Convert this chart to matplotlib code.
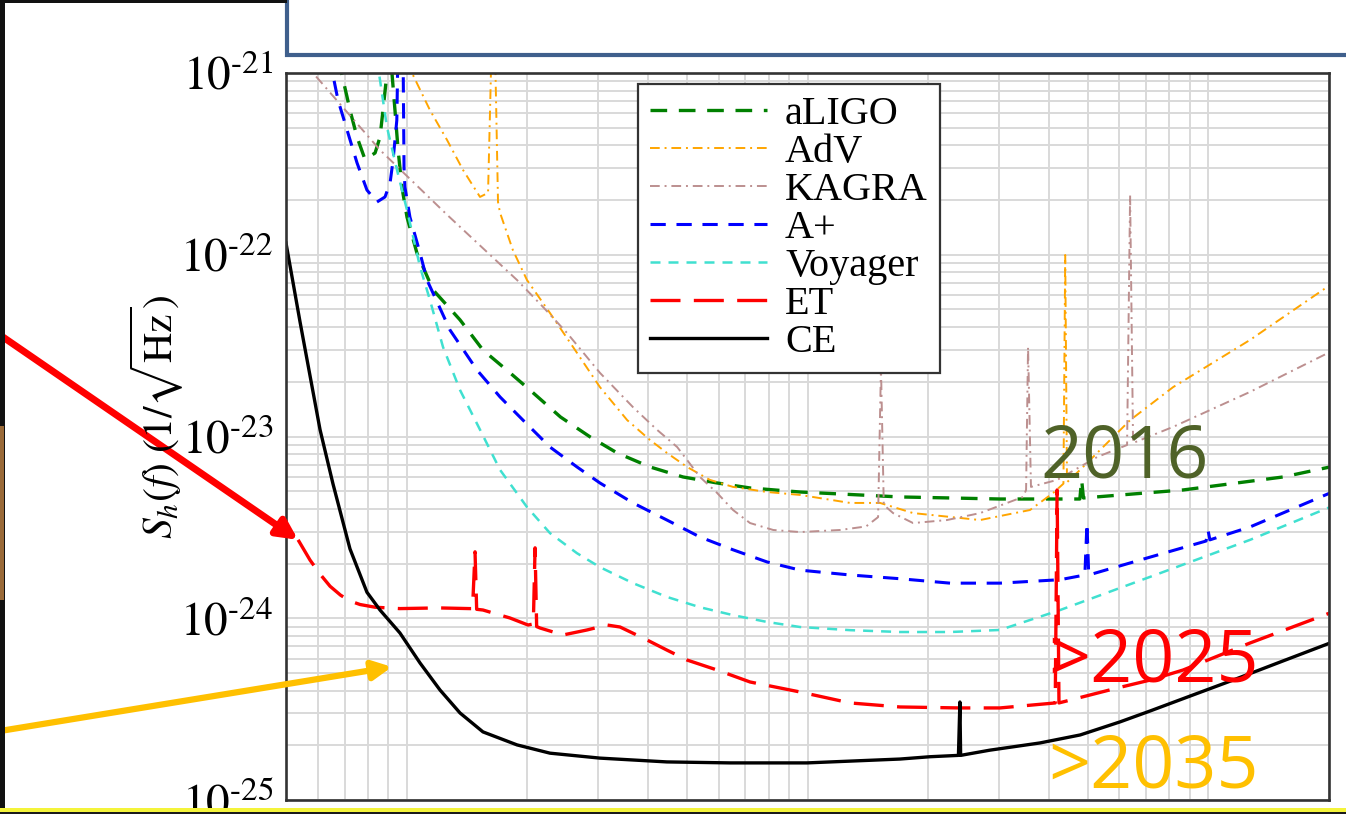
import matplotlib.pyplot as plt
from matplotlib.patches import Rectangle
from matplotlib.ticker import FixedLocator, FixedFormatter, NullFormatter

plt.rcParams['font.family'] = ['Liberation Serif', 'DejaVu Serif']
plt.rcParams['mathtext.fontset'] = 'stix'

# strain noise curves: frequency in Hz, amplitude in units of 1e-24 / sqrt(Hz)
aligo_f = [6.75, 7.10, 7.22, 7.52, 7.87, 8.34, 8.58, 8.73, 8.93, 9.05, 9.19, 9.35, 9.52, 9.73,
           10.02, 10.61, 11.64, 13.59, 15.50, 18.11, 20.67, 24.2, 28.7, 33.5, 40.46, 48.9,
           59.5, 71.9, 95.8, 170, 227, 302, 403, 478, 483, 488, 865, 1537, 2013]
aligo_h = [1200, 738, 625, 444, 335, 363, 444, 625, 1000, 2500, 1000, 625, 377, 236,
           161, 102, 64.0, 43.8, 29.9, 22.4, 17.4, 12.8, 9.94, 8.12, 6.80, 5.99,
           5.55, 5.21, 4.95, 4.65, 4.59, 4.53, 4.53, 4.53, 5.77, 4.59, 5.08, 5.99, 6.80]

adv_f = [10.0, 11.43, 12.61, 13.82, 15.24, 15.96, 16.3, 16.6, 16.9, 17.1, 18.41, 19.96, 22.78,
         26.0, 30.35, 35.5, 40.46, 44.6, 50.06, 57.1, 65.2, 79.3, 95.8, 127.7, 151.7, 183.4,
         269.5, 359, 410, 435, 439.5, 444, 478.6, 638, 817, 1271, 2013]
adv_h = [1150, 625, 428, 293, 208, 219, 1500, 1500, 195, 170, 106, 72.6, 47.8,
         31.1, 18.7, 12.3, 9.57, 8.12, 6.80, 5.77, 5.28, 4.95, 4.77, 4.31, 4.31, 3.79,
         3.47, 3.94, 4.89, 5.5, 99.7, 5.6, 6.55, 12.3, 18.7, 34.0, 68.2]

kagra_f = [5.5, 5.84, 8.58, 12.61, 18.85, 21.89, 25.13, 30.35, 36.7, 42.1, 47.3, 50.06, 53.9,
           59.5, 65.2, 71.9, 82.1, 95.8, 120.6, 140, 150, 152.5, 155, 163.5, 183.4, 222.8,
           269.5, 345, 351, 355, 361, 419.5, 528, 627, 638, 649, 817, 1271, 2013]
kagra_h = [1180, 1000, 377, 166, 72.6, 51.6, 37.1, 22.4, 14.5, 10.9, 8.75, 7.43, 5.99,
           4.89, 3.94, 3.34, 3.06, 2.98, 3.06, 3.2, 3.6, 24.1, 4.2, 3.79, 3.34, 3.47,
           3.79, 4.65, 5.08, 31.1, 5.28, 5.77, 7.71, 8.98, 213, 9.21, 11.3, 17.6, 29.2]

aplus_f = [6.4, 6.74, 7.10, 7.52, 7.96, 8.43, 8.83, 9.09, 9.25, 9.45, 9.52, 9.79, 9.85, 9.90,
           10.19, 10.80, 11.24, 12.83, 14.98, 17.1, 19.51, 22.78, 26.6, 30.35, 36.7, 44.6,
           53.9, 65.2, 79.3, 95.8, 127.7, 170, 226.8, 302, 427, 492, 498, 503, 716, 987,
           998, 1009, 1271, 2013]
aplus_h = [1250, 710, 486, 320, 227, 195, 208, 248, 332, 550, 1500, 1500, 300, 236,
           161, 102, 72.6, 38.5, 23.2, 16.5, 12.3, 8.75, 6.80, 5.55, 4.31, 3.47,
           2.80, 2.38, 2.04, 1.84, 1.73, 1.65, 1.56, 1.56, 1.63, 1.73, 3.34, 1.73, 2.17, 2.66,
           3.06, 2.70, 3.18, 4.89]

voyager_f = [8.3, 8.93, 9.46, 10.02, 10.80, 11.43, 12.32, 13.59, 15.24, 17.1, 19.96, 22.78,
             26.6, 30.35, 36.7, 44.6, 53.9, 65.2, 79.3, 95.8, 127.7, 170, 226.8, 302, 427,
             716, 1271, 2013]
voyager_h = [1500, 504, 293, 176, 85.7, 56.4, 31.1, 18.0, 10.9, 6.55, 4.09, 2.94,
             2.28, 1.91, 1.56, 1.31, 1.15, 1.04, 0.954, 0.895, 0.86, 0.840, 0.840, 0.862, 1.11,
             1.69, 2.70, 4.09]

et_f = [5.36, 5.74, 6.08, 6.44, 6.84, 7.22, 7.65, 8.34, 9.62, 12.0, 14.39, 14.6, 14.81, 14.95,
        15.50, 18.11, 20.08, 20.7, 20.91, 21.1, 21.51, 24.55, 28.18, 31.61, 34.07, 39.8, 44.6,
        50.06, 59.5, 71.9, 95.8, 127.7, 170, 240, 302, 415, 419.5, 424, 592, 716, 865, 1271,
        2013]
et_h = [2.70, 2.09, 1.75, 1.50, 1.34, 1.245, 1.19, 1.15, 1.13, 1.14, 1.13, 1.13, 2.32, 1.12,
        1.11, 1.003, 0.918, 0.93, 2.44, 0.90, 0.884, 0.809, 0.862, 0.918, 0.895, 0.759, 0.668,
        0.589, 0.519, 0.446, 0.393, 0.342, 0.325, 0.321, 0.321, 0.342, 5.08, 0.342, 0.413, 0.457,
        0.519, 0.731, 1.07]

ce_f = [5.0, 5.42, 6.08, 6.55, 7.22, 7.96, 8.58, 9.62, 10.80, 12.11, 13.59, 15.50, 18.85,
        22.78, 30.35, 44.6, 64.1, 99.7, 170, 202, 238, 240, 241, 285, 380, 479, 602, 716,
        900, 1153, 1510, 2013]
ce_h = [116, 42.7, 10.9, 5.48, 2.41, 1.39, 1.11, 0.830, 0.567, 0.403, 0.301, 0.237, 0.201,
        0.181, 0.170, 0.162, 0.160, 0.160, 0.168, 0.173, 0.176, 0.346, 0.176, 0.188, 0.206,
        0.228, 0.269, 0.309, 0.373, 0.457, 0.574, 0.731]

curves = [
    ('aLIGO', aligo_f, aligo_h, dict(color='#008000', lw=2.4, dashes=(5, 3.5))),
    ('AdV', adv_f, adv_h, dict(color='#FFA500', lw=1.4, dashes=(5, 2.5, 1, 2.5))),
    ('KAGRA', kagra_f, kagra_h, dict(color='#BC8F8F', lw=1.4, dashes=(5, 2.5, 1, 2.5))),
    ('A+', aplus_f, aplus_h, dict(color='#0000FF', lw=2.2, dashes=(5, 3.5))),
    ('Voyager', voyager_f, voyager_h, dict(color='#40E0D0', lw=1.8, dashes=(4, 3.2))),
    ('ET', et_f, et_h, dict(color='#FF0000', lw=2.4, dashes=(9, 4))),
    ('CE', ce_f, ce_h, dict(color='black', lw=2.4)),
]

W, H = 1346, 814
fig = plt.figure(figsize=(W / 100, H / 100), dpi=100)
ax = fig.add_axes([286 / W, 14 / H, 1043 / W, 727 / H])

for name, f, h, style in curves:
    ax.plot(f, [v * 1e-24 for v in h], label=name, **style)

ax.set_xscale('log')
ax.set_yscale('log')
ax.set_xlim(5, 2000)
ax.set_ylim(1e-25, 1e-21)

yt = [1e-25, 1e-24, 1e-23, 1e-22, 1e-21]
ax.yaxis.set_major_locator(FixedLocator(yt))
ax.yaxis.set_major_formatter(FixedFormatter(
    ['$10^{\u2010%d}$' % k for k in (25, 24, 23, 22, 21)]))
ax.yaxis.set_minor_formatter(NullFormatter())
ax.tick_params(axis='y', which='both', length=0, labelsize=34, pad=9)
ax.tick_params(axis='x', which='both', length=0, labelbottom=False)

ax.grid(True, which='both', color='#d9d9d9', lw=1.4)
ax.set_axisbelow(True)
for sp in ax.spines.values():
    sp.set_color('#333333')
    sp.set_linewidth(1.9)

leg = ax.legend(loc='upper left', bbox_to_anchor=(0.3375, 0.985), borderaxespad=0,
                fontsize=29, frameon=True, fancybox=False, framealpha=1,
                edgecolor='#333333', handlelength=2.9, handletextpad=0.45,
                labelspacing=0.02, borderpad=0.3)
leg.get_frame().set_linewidth(1.6)

fig.text(157 / W, 1 - 417 / H, r'$S_h(f)\ (1/\sqrt{\mathrm{Hz}})$', rotation=90,
         ha='center', va='center', fontsize=30)

# slide overlays
ax.annotate('', xy=(5.36, 2.7e-24), xytext=(0, H - 335), textcoords='figure pixels',
            arrowprops=dict(arrowstyle='-|>', color='#FF0000', lw=5, mutation_scale=30,
                            shrinkA=0, shrinkB=0), annotation_clip=False)
ax.annotate('', xy=(9.19, 0.54e-24), xytext=(0, H - 731), textcoords='figure pixels',
            arrowprops=dict(arrowstyle='-|>', color='#FFC000', lw=4.5, mutation_scale=28,
                            shrinkA=0, shrinkB=0), annotation_clip=False)

for txt, x0, yb, col in [('2016', 1040, 477, '#4F6228'), ('>2025', 1048, 682, '#FF0000'),
                         ('>2035', 1048, 788, '#FFC000')]:
    fig.text(x0 / W, 1 - yb / H, txt, color=col, fontsize=53, family='Open Sans',
             ha='left', va='baseline')

fig.patches.append(Rectangle((287 / W, 1 - 55 / H), 1, 1, transform=fig.transFigure,
                             fc='white', ec='#3F5F8C', lw=3))
fig.patches.append(Rectangle((0, 0), 5 / W, 1, transform=fig.transFigure,
                             fc='#111111', ec='none'))
fig.patches.append(Rectangle((0, 1 - 3 / H), 287 / W, 3 / H, transform=fig.transFigure,
                             fc='#111111', ec='none'))
fig.patches.append(Rectangle((0, 1 - 600 / H), 4 / W, 174 / H,
                             transform=fig.transFigure, fc='#9A6A38', ec='none'))
fig.patches.append(Rectangle((0, 2.5 / H), 1, 4 / H, transform=fig.transFigure,
                             fc='#F4F43A', ec='none'))
fig.patches.append(Rectangle((0, 0), 1, 2.5 / H, transform=fig.transFigure,
                             fc='#1a1a1a', ec='none'))

fig.savefig('out.png', dpi=100, facecolor='white')
